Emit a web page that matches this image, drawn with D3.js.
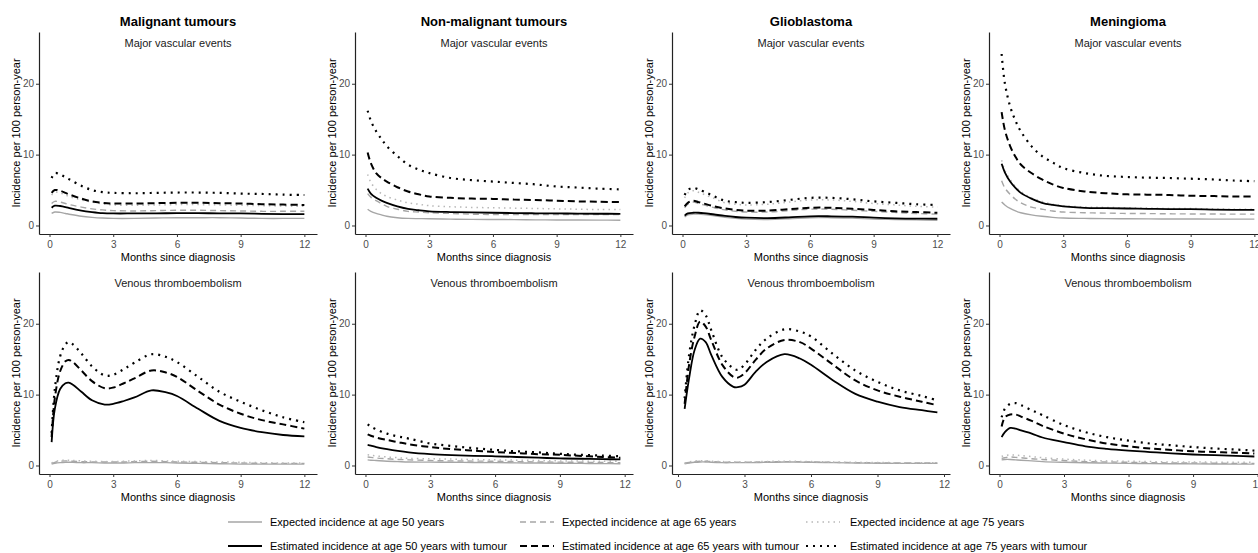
<!DOCTYPE html>
<html>
<head>
<meta charset="utf-8">
<script src="https://cdn.jsdelivr.net/npm/d3@7"></script>
<style>
  body { margin: 0; background: #fff; }
  svg { display: block; font-family: "Liberation Sans", Arial, sans-serif; }
  .axis .domain { stroke: #222; stroke-width: 1.2; }
  .axis .tick line { stroke: #333; }
  .axis .tick text { fill: #4d4d4d; font-size: 10px; }
</style>
</head>
<body>
<div id="chart"></div>
<script>
// categories / labels
var columnTitles = ["Malignant tumours", "Non-malignant tumours", "Glioblastoma", "Meningioma"];
var rowTitles = ["Major vascular events", "Venous thromboembolism"];
var seriesLabels = [
  "Expected incidence at age 50 years",
  "Expected incidence at age 65 years",
  "Expected incidence at age 75 years",
  "Estimated incidence at age 50 years with tumour",
  "Estimated incidence at age 65 years with tumour",
  "Estimated incidence at age 75 years with tumour"
];
var xTicks = [0, 3, 6, 9, 12];
var yTicks = [0, 10, 20];

// months since diagnosis
var monthsMVE = [0.1, 0.25, 0.5, 0.75, 1, 1.5, 2, 2.5, 3, 4, 5, 6, 7, 8, 9, 10, 11, 12];
var monthsVteMalignant = [0.1, 0.25, 0.5, 0.75, 0.9, 1.1, 1.5, 2, 2.6, 3, 3.5, 4, 4.8, 5.5, 6, 7, 8, 9, 10, 11, 12];
var monthsVteNonMalignant = [0.1, 0.25, 0.5, 1, 1.5, 2, 3, 4, 5, 6, 7, 8, 9, 10, 11, 11.8];
var monthsVteGlioblastoma = [0.3, 0.5, 0.75, 1, 1.25, 1.5, 2, 2.5, 2.7, 3, 3.5, 4, 4.8, 5.5, 6, 7, 8, 9, 10, 11, 11.7];
var monthsVteMeningioma = [0.1, 0.25, 0.5, 0.75, 1, 1.5, 2, 3, 4, 5, 6, 7, 8, 9, 10, 11, 11.85];

// series order: exp50, exp65, exp75, est50, est65, est75
var mveMalignant = [
  [1.7, 1.9, 1.85, 1.7, 1.55, 1.3, 1.15, 1.05, 1.0, 1.0, 1.05, 1.1, 1.1, 1.1, 1.05, 1.0, 1.0, 1.0],
  [3.1, 3.4, 3.3, 3.1, 2.9, 2.6, 2.35, 2.2, 2.1, 2.05, 2.1, 2.15, 2.15, 2.1, 2.05, 2.0, 2.0, 2.0],
  [4.3, 4.7, 4.6, 4.3, 4.0, 3.6, 3.3, 3.05, 2.9, 2.85, 2.9, 2.95, 2.95, 2.9, 2.85, 2.8, 2.75, 2.7],
  [2.5, 2.8, 2.75, 2.6, 2.4, 2.1, 1.9, 1.75, 1.7, 1.7, 1.7, 1.75, 1.75, 1.7, 1.7, 1.65, 1.6, 1.6],
  [4.6, 5.0, 4.9, 4.6, 4.3, 3.8, 3.4, 3.2, 3.1, 3.1, 3.15, 3.2, 3.2, 3.15, 3.1, 3.0, 2.95, 2.9],
  [6.7, 7.4, 7.2, 6.8, 6.4, 5.6, 5.0, 4.7, 4.6, 4.55, 4.6, 4.65, 4.65, 4.6, 4.5, 4.45, 4.35, 4.3]
];
var mveNonMalignant = [
  [2.3, 2.0, 1.7, 1.5, 1.3, 1.1, 1.0, 0.97, 0.95, 0.9, 0.87, 0.85, 0.83, 0.8, 0.78, 0.77, 0.76, 0.75],
  [4.5, 4.0, 3.5, 3.1, 2.7, 2.3, 2.0, 1.9, 1.8, 1.7, 1.6, 1.55, 1.55, 1.55, 1.55, 1.55, 1.55, 1.55],
  [7.2, 6.1, 5.1, 4.5, 4.1, 3.6, 3.2, 3.0, 2.8, 2.65, 2.55, 2.5, 2.45, 2.4, 2.35, 2.3, 2.25, 2.25],
  [5.2, 4.5, 3.9, 3.5, 3.2, 2.7, 2.35, 2.15, 2.0, 1.9, 1.85, 1.8, 1.75, 1.72, 1.7, 1.68, 1.66, 1.65],
  [10.3, 8.8, 7.4, 6.7, 6.2, 5.4, 4.8, 4.4, 4.1, 3.9, 3.8, 3.75, 3.65, 3.6, 3.5, 3.4, 3.35, 3.3],
  [16.2, 14.8, 13.3, 12.2, 11.2, 9.8, 8.6, 7.9, 7.4, 6.7, 6.4, 6.2, 6.0, 5.8, 5.5, 5.35, 5.2, 5.1]
];
var mveGlioblastoma = [
  [1.2, 1.5, 1.6, 1.6, 1.55, 1.35, 1.15, 1.0, 0.9, 0.85, 0.95, 1.1, 1.1, 1.05, 0.9, 0.85, 0.8, 0.75],
  [2.5, 3.0, 3.3, 3.1, 2.9, 2.5, 2.2, 2.0, 1.9, 1.9, 2.1, 2.3, 2.3, 2.15, 2.0, 1.85, 1.7, 1.6],
  [3.9, 4.6, 4.9, 4.7, 4.4, 3.8, 3.2, 3.0, 2.9, 3.0, 3.3, 3.6, 3.6, 3.4, 3.1, 2.9, 2.7, 2.6],
  [1.4, 1.7, 1.8, 1.8, 1.75, 1.55, 1.35, 1.2, 1.1, 1.05, 1.15, 1.3, 1.3, 1.25, 1.1, 1.0, 0.97, 0.95],
  [2.7, 3.2, 3.5, 3.3, 3.1, 2.7, 2.4, 2.2, 2.1, 2.1, 2.3, 2.5, 2.5, 2.35, 2.2, 2.0, 1.9, 1.8],
  [4.3, 5.0, 5.3, 5.1, 4.8, 4.1, 3.5, 3.3, 3.2, 3.3, 3.6, 3.9, 3.9, 3.7, 3.4, 3.2, 3.0, 2.9]
];
var mveMeningioma = [
  [3.3, 2.9, 2.4, 2.05, 1.8, 1.5, 1.3, 1.15, 1.05, 1.0, 0.97, 0.95, 0.93, 0.92, 0.91, 0.9, 0.9, 0.9],
  [6.3, 5.3, 4.4, 3.7, 3.2, 2.6, 2.3, 2.05, 1.9, 1.8, 1.75, 1.7, 1.68, 1.65, 1.63, 1.62, 1.6, 1.6],
  [9.2, 7.8, 6.5, 5.5, 4.8, 3.9, 3.4, 3.0, 2.8, 2.6, 2.55, 2.5, 2.45, 2.4, 2.4, 2.35, 2.3, 2.3],
  [8.7, 7.5, 6.2, 5.3, 4.6, 3.8, 3.2, 2.9, 2.7, 2.5, 2.45, 2.4, 2.35, 2.3, 2.3, 2.25, 2.2, 2.2],
  [16.0, 13.5, 11.2, 9.7, 8.6, 7.4, 6.5, 5.8, 5.3, 4.8, 4.55, 4.4, 4.35, 4.3, 4.2, 4.15, 4.1, 4.1],
  [24.2, 20.1, 16.8, 14.8, 13.3, 11.2, 9.8, 8.9, 8.1, 7.4, 7.0, 6.85, 6.75, 6.7, 6.6, 6.5, 6.35, 6.25]
];
var vteMalignant = [
  [0.2, 0.3, 0.4, 0.45, 0.45, 0.45, 0.4, 0.4, 0.35, 0.35, 0.35, 0.4, 0.4, 0.4, 0.35, 0.3, 0.25, 0.2, 0.2, 0.2, 0.2],
  [0.3, 0.45, 0.6, 0.65, 0.65, 0.6, 0.55, 0.5, 0.5, 0.5, 0.5, 0.55, 0.6, 0.55, 0.5, 0.45, 0.4, 0.35, 0.3, 0.3, 0.3],
  [0.35, 0.55, 0.7, 0.75, 0.75, 0.7, 0.65, 0.6, 0.55, 0.55, 0.6, 0.65, 0.7, 0.65, 0.6, 0.55, 0.5, 0.45, 0.4, 0.35, 0.35],
  [3.3, 8.0, 10.8, 11.6, 11.7, 11.4, 10.4, 9.2, 8.6, 8.7, 9.1, 9.6, 10.6, 10.3, 9.8, 8.0, 6.3, 5.3, 4.7, 4.3, 4.1],
  [4.0, 9.5, 13.3, 14.7, 14.9, 14.6, 13.4, 11.9, 10.9, 11.0, 11.6, 12.3, 13.4, 13.1, 12.5, 10.5, 8.6, 7.3, 6.4, 5.8, 5.2],
  [4.6, 10.8, 15.4, 17.1, 17.4, 17.1, 15.8, 14.0, 12.7, 12.8, 13.6, 14.5, 15.7, 15.3, 14.6, 12.5, 10.4, 9.0, 7.8, 6.8, 6.1]
];
var vteNonMalignant = [
  [0.8, 0.75, 0.7, 0.6, 0.55, 0.5, 0.47, 0.45, 0.42, 0.4, 0.37, 0.35, 0.32, 0.3, 0.27, 0.25],
  [1.2, 1.15, 1.05, 0.95, 0.85, 0.8, 0.7, 0.65, 0.62, 0.6, 0.55, 0.5, 0.47, 0.45, 0.42, 0.4],
  [1.5, 1.45, 1.35, 1.2, 1.1, 1.0, 0.95, 0.9, 0.85, 0.8, 0.75, 0.7, 0.65, 0.62, 0.6, 0.6],
  [2.9, 2.8, 2.6, 2.3, 2.05, 1.85, 1.6, 1.45, 1.35, 1.3, 1.2, 1.1, 1.0, 0.95, 0.9, 0.85],
  [4.4, 4.2, 3.95, 3.6, 3.3, 3.0, 2.6, 2.3, 2.1, 1.9, 1.75, 1.6, 1.5, 1.35, 1.2, 1.1],
  [5.8, 5.5, 5.1, 4.5, 4.1, 3.8, 3.1, 2.75, 2.45, 2.2, 2.0, 1.85, 1.65, 1.5, 1.4, 1.3]
];
var vteGlioblastoma = [
  [0.25, 0.35, 0.45, 0.5, 0.5, 0.45, 0.4, 0.4, 0.4, 0.4, 0.42, 0.45, 0.5, 0.48, 0.45, 0.4, 0.35, 0.32, 0.3, 0.3, 0.3],
  [0.3, 0.42, 0.55, 0.6, 0.6, 0.55, 0.48, 0.45, 0.45, 0.45, 0.48, 0.52, 0.55, 0.53, 0.5, 0.45, 0.4, 0.37, 0.35, 0.35, 0.35],
  [0.35, 0.5, 0.62, 0.68, 0.67, 0.62, 0.55, 0.5, 0.5, 0.5, 0.53, 0.57, 0.6, 0.58, 0.55, 0.5, 0.45, 0.42, 0.4, 0.4, 0.4],
  [8.0, 12.3, 16.3, 17.9, 17.4, 15.6, 12.5, 11.1, 11.05, 11.4, 13.2, 14.6, 15.7, 15.1, 14.2, 12.0, 10.1, 9.0, 8.25, 7.8, 7.5],
  [8.7, 14.2, 18.2, 20.3, 19.6, 17.7, 14.2, 12.5, 12.4, 13.0, 14.9, 16.5, 17.7, 17.4, 16.5, 14.2, 12.0, 10.6, 9.7, 9.0, 8.5],
  [9.5, 15.6, 19.8, 21.9, 21.2, 19.1, 15.3, 13.7, 13.5, 14.2, 16.3, 17.9, 19.2, 18.9, 18.2, 15.7, 13.4, 11.8, 10.6, 9.8, 9.2]
];
var vteMeningioma = [
  [0.8, 0.85, 0.85, 0.8, 0.75, 0.65, 0.55, 0.45, 0.38, 0.33, 0.3, 0.27, 0.25, 0.23, 0.22, 0.2, 0.2],
  [1.0, 1.1, 1.2, 1.15, 1.1, 0.95, 0.85, 0.7, 0.55, 0.5, 0.45, 0.4, 0.37, 0.35, 0.32, 0.3, 0.3],
  [1.3, 1.4, 1.5, 1.45, 1.4, 1.25, 1.1, 0.9, 0.75, 0.65, 0.6, 0.55, 0.5, 0.5, 0.47, 0.45, 0.45],
  [4.0, 4.7, 5.3, 5.2, 4.95, 4.5, 3.95, 3.3, 2.7, 2.35, 2.1, 1.9, 1.7, 1.55, 1.45, 1.35, 1.27],
  [5.5, 6.8, 7.2, 7.2, 6.9, 6.3, 5.6, 4.5, 3.7, 3.1, 2.7, 2.4, 2.2, 2.0, 1.9, 1.8, 1.7],
  [6.8, 8.0, 8.7, 8.8, 8.5, 7.8, 7.1, 5.7, 4.7, 4.0, 3.5, 3.1, 2.85, 2.6, 2.4, 2.25, 2.1]
];

// panel grid (row, col)
var panels = [
  {row: 0, col: 0, months: monthsMVE, values: mveMalignant},
  {row: 0, col: 1, months: monthsMVE, values: mveNonMalignant},
  {row: 0, col: 2, months: monthsMVE, values: mveGlioblastoma},
  {row: 0, col: 3, months: monthsMVE, values: mveMeningioma},
  {row: 1, col: 0, months: monthsVteMalignant, values: vteMalignant},
  {row: 1, col: 1, months: monthsVteNonMalignant, values: vteNonMalignant},
  {row: 1, col: 2, months: monthsVteGlioblastoma, values: vteGlioblastoma},
  {row: 1, col: 3, months: monthsVteMeningioma, values: vteMeningioma}
];

// line styles per series
var styles = [
  {color: "#a6a6a6", dash: null, width: 1.4},
  {color: "#a6a6a6", dash: "6,4", width: 1.4},
  {color: "#b8b8b8", dash: "1.5,4", width: 1.5},
  {color: "#000", dash: null, width: 1.8},
  {color: "#000", dash: "7,4", width: 2},
  {color: "#000", dash: "2,5", width: 2.2}
];

var svgWidth = 1258;
var svgHeight = 553;

var colLeft = [39, 355, 672, 989];
var panelWidth = 278;
var rowTop = [32, 272];
var panelHeight = 202;

var svg = d3.select("#chart")
  .append("svg")
  .attr("width", svgWidth)
  .attr("height", svgHeight);

// column titles
columnTitles.forEach(function(t, i) {
  svg.append("text")
    .attr("x", colLeft[i] + panelWidth / 2)
    .attr("y", 25.5)
    .attr("text-anchor", "middle")
    .attr("font-size", 13)
    .attr("font-weight", "bold")
    .attr("fill", "#000")
    .text(t);
});

var line = d3.line().curve(d3.curveCatmullRom.alpha(0.5));

panels.forEach(function(p) {
  var left = colLeft[p.col];
  var top = rowTop[p.row];

  // free x scale with 5% expansion like ggplot
  var ext = d3.extent(p.months);
  var pad = (ext[1] - ext[0]) * 0.05;
  var x = d3.scaleLinear()
    .domain([ext[0] - pad, ext[1] + pad])
    .range([left, left + panelWidth]);
  var y = d3.scaleLinear()
    .domain([-1.2, 27.3])
    .range([top + panelHeight, top]);

  var g = svg.append("g");

  // lines
  p.values.forEach(function(vals, s) {
    var st = styles[s];
    g.append("path")
      .datum(p.months.map(function(m, i) { return [x(m), y(vals[i])]; }))
      .attr("d", line)
      .attr("fill", "none")
      .attr("stroke", st.color)
      .attr("stroke-width", st.width)
      .attr("stroke-dasharray", st.dash);
  });

  // axes
  g.append("g")
    .attr("class", "axis")
    .attr("transform", `translate(0, ${top + panelHeight})`)
    .call(d3.axisBottom(x).tickValues(xTicks).tickSize(3).tickSizeOuter(0).tickPadding(4));

  g.append("g")
    .attr("class", "axis")
    .attr("transform", `translate(${left}, 0)`)
    .call(d3.axisLeft(y).tickValues(yTicks).tickSize(3).tickSizeOuter(0).tickPadding(2));

  // subtitle
  g.append("text")
    .attr("x", left + panelWidth / 2)
    .attr("y", top + 15)
    .attr("text-anchor", "middle")
    .attr("font-size", 11)
    .attr("fill", "#1a1a1a")
    .text(rowTitles[p.row]);

  // x axis title
  g.append("text")
    .attr("x", left + panelWidth / 2)
    .attr("y", top + panelHeight + 27)
    .attr("text-anchor", "middle")
    .attr("font-size", 11)
    .attr("fill", "#000")
    .text("Months since diagnosis");

  // y axis title
  g.append("text")
    .attr("transform", `translate(${left - 19}, ${top + panelHeight / 2}) rotate(-90)`)
    .attr("text-anchor", "middle")
    .attr("font-size", 11)
    .attr("fill", "#000")
    .text("Incidence per 100 person-year");
});

// legend
var legendText = [270, 562, 850];
var legendKey = [[228, 262], [520, 554], [806, 840]];
var legendRows = [522, 546];

seriesLabels.forEach(function(label, i) {
  var c = i % 3;
  var r = Math.floor(i / 3);
  var st = styles[i];
  var ly = legendRows[r];
  svg.append("line")
    .attr("x1", legendKey[c][0])
    .attr("x2", legendKey[c][1])
    .attr("y1", ly)
    .attr("y2", ly)
    .attr("stroke", st.color)
    .attr("stroke-width", st.width)
    .attr("stroke-dasharray", st.dash);
  svg.append("text")
    .attr("x", legendText[c])
    .attr("y", ly)
    .attr("dy", "0.35em")
    .attr("font-size", 11)
    .attr("fill", "#000")
    .text(label);
});
</script>
</body>
</html>
